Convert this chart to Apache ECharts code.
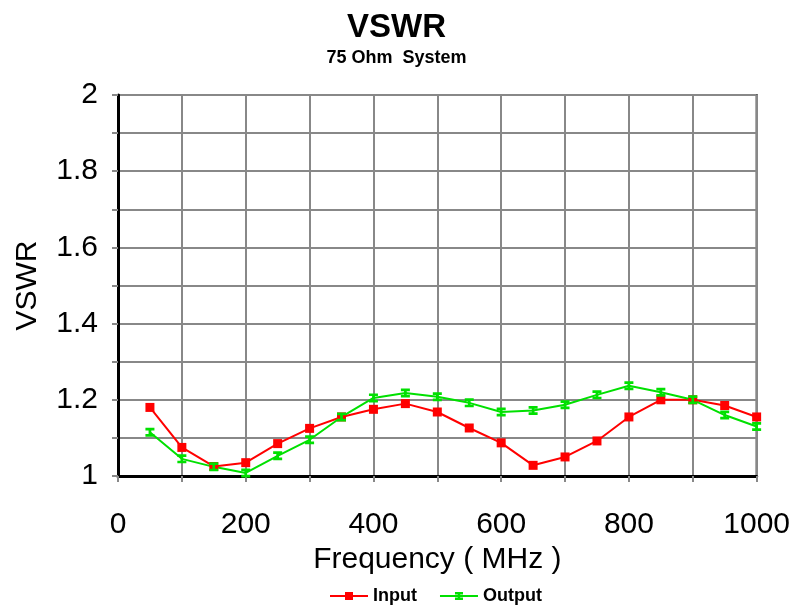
<!DOCTYPE html>
<html>
<head>
<meta charset="utf-8">
<script src="https://cdn.jsdelivr.net/npm/echarts@6/dist/echarts.min.js"></script>
<style>
  html, body { margin: 0; padding: 0; background: #fff; }
  #chart { width: 793px; height: 613px; }
</style>
</head>
<body>
<div id="chart"></div>
<script>
// Frequency points (MHz)
const frequency = [50, 100, 150, 200, 250, 300, 350, 400, 450, 500,
                   550, 600, 650, 700, 750, 800, 850, 900, 950, 1000];
// Input VSWR
const inputVswr = [1.18, 1.075, 1.025, 1.035, 1.085, 1.125, 1.155, 1.175, 1.19, 1.168,
                   1.126, 1.087, 1.028, 1.05, 1.092, 1.155, 1.2, 1.2, 1.185, 1.155];
// Output VSWR
const outputVswr = [1.115, 1.045, 1.024, 1.008, 1.053, 1.095, 1.155, 1.205, 1.218, 1.208,
                    1.192, 1.168, 1.172, 1.187, 1.213, 1.237, 1.22, 1.2, 1.16, 1.13];

const pairs = (xs, ys) => xs.map((x, i) => [x, ys[i]]);
const iBeam = 'path://M0,0H10V3H6.5V7H10V10H0V7H3.5V3H0Z';
const font = 'Liberation Sans, Arial, sans-serif';

const chart = echarts.init(document.getElementById('chart'));
chart.setOption({
  animation: false,
  title: {
    text: 'VSWR',
    subtext: '75 Ohm  System',
    left: 'center',
    top: 6,
    itemGap: 5,
    textStyle: { fontFamily: font, fontSize: 33, fontWeight: 'bold', color: '#000' },
    subtextStyle: { fontFamily: font, fontSize: 18, fontWeight: 'bold', color: '#000' }
  },
  legend: {
    bottom: 3,
    left: 324,
    itemWidth: 38,
    itemHeight: 10,
    itemGap: 22,
    textStyle: { fontFamily: font, fontSize: 18, fontWeight: 'bold', color: '#000' },
    data: ['Input', 'Output']
  },
  grid: { left: 118, right: 31, top: 95, bottom: 137, containLabel: false,
          show: true, borderColor: '#222', borderWidth: 2 },
  xAxis: {
    type: 'value',
    min: 0, max: 1000, interval: 100,
    name: 'Frequency ( MHz )',
    nameLocation: 'middle',
    nameGap: 66,
    nameTextStyle: { fontFamily: font, fontSize: 30, color: '#000' },
    axisLine: { lineStyle: { color: '#000', width: 3 } },
    axisTick: { show: true, length: 6, lineStyle: { color: '#888', width: 2 } },
    axisLabel: {
      fontFamily: font, fontSize: 30, color: '#000', margin: 34,
      formatter: v => (Math.round(v) % 200 === 0 ? String(Math.round(v)) : '')
    },
    splitLine: { show: true, lineStyle: { color: '#888', width: 2 } }
  },
  yAxis: {
    type: 'value',
    min: 1, max: 2, interval: 0.1,
    name: 'VSWR',
    nameLocation: 'middle',
    nameGap: 75,
    nameTextStyle: { fontFamily: font, fontSize: 30, color: '#000' },
    axisLine: { show: true, lineStyle: { color: '#000', width: 3 } },
    axisTick: { show: true, length: 6, lineStyle: { color: '#888', width: 2 } },
    axisLabel: {
      fontFamily: font, fontSize: 30, color: '#000', margin: 20,
      formatter: v => {
        const t = Math.round(v * 10);
        return t % 2 === 0 ? String(t / 10) : '';
      }
    },
    splitLine: { show: true, lineStyle: { color: '#888', width: 2 } }
  },
  series: [
    {
      name: 'Input',
      type: 'line',
      data: pairs(frequency, inputVswr),
      color: '#ff0000',
      lineStyle: { color: '#ff0000', width: 2 },
      symbol: 'rect',
      symbolSize: 9,
      itemStyle: { color: '#ff0000' }
    },
    {
      name: 'Output',
      type: 'line',
      data: pairs(frequency, outputVswr),
      color: '#00e000',
      lineStyle: { color: '#00e000', width: 2 },
      symbol: iBeam,
      symbolSize: 9,
      itemStyle: { color: '#00e000' }
    }
  ]
});
</script>
</body>
</html>
